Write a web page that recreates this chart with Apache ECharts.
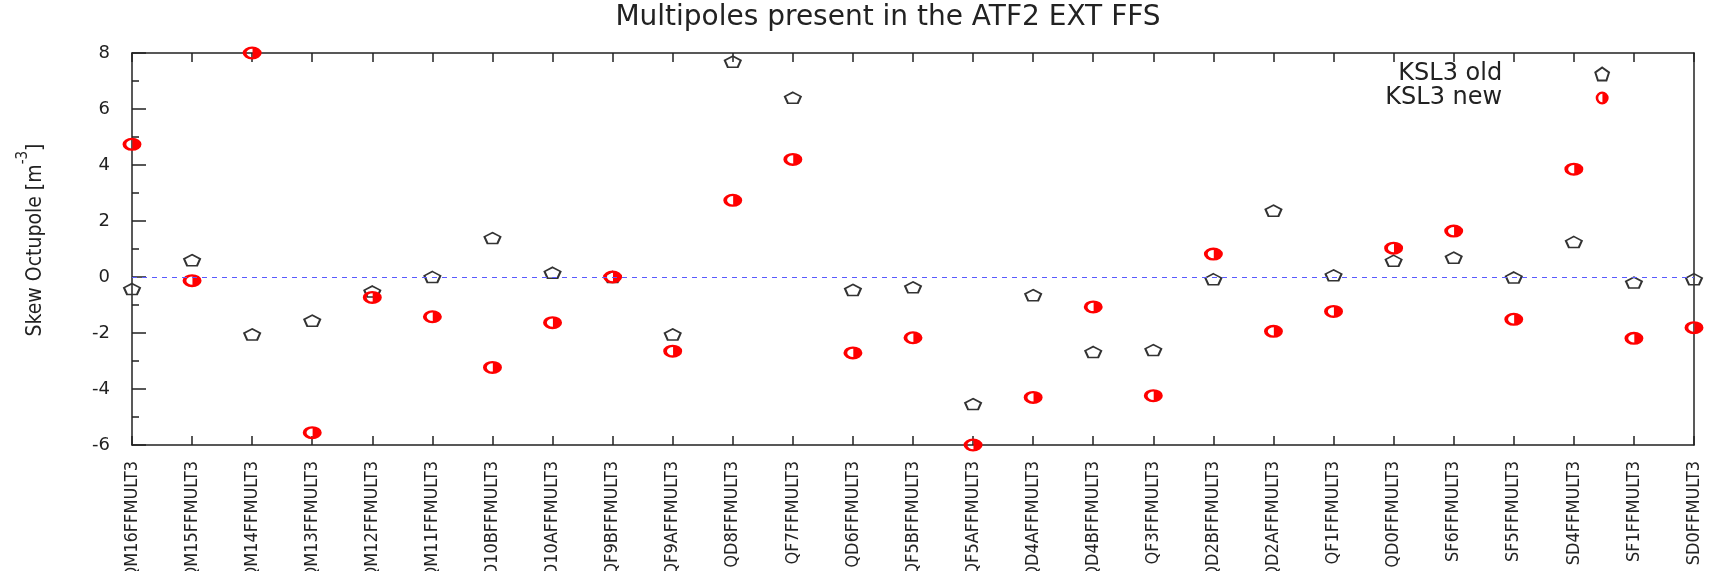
<!DOCTYPE html>
<html>
<head>
<meta charset="utf-8">
<script src="https://cdn.jsdelivr.net/npm/echarts@6/dist/echarts.min.js"></script>
<style>
html,body{margin:0;padding:0;background:#fff;}
#chart{width:1711px;height:571px;}
</style>
</head>
<body>
<div id="chart"></div>
<script>
const categories = [
  'QM16FFMULT3','QM15FFMULT3','QM14FFMULT3','QM13FFMULT3','QM12FFMULT3','QM11FFMULT3',
  'QD10BFFMULT3','QD10AFFMULT3','QF9BFFMULT3','QF9AFFMULT3','QD8FFMULT3','QF7FFMULT3',
  'QD6FFMULT3','QF5BFFMULT3','QF5AFFMULT3','QD4AFFMULT3','QD4BFFMULT3','QF3FFMULT3',
  'QD2BFFMULT3','QD2AFFMULT3','QF1FFMULT3','QD0FFMULT3','SF6FFMULT3','SF5FFMULT3',
  'SD4FFMULT3','SF1FFMULT3','SD0FFMULT3'
];
const ksl3Old = [
  -0.43, 0.6, -2.05, -1.56, -0.52, 0.0, 1.39, 0.15, 0.0, -2.05, 7.69, 6.4,
  -0.46, -0.37, -4.54, -0.65, -2.68, -2.61, -0.08, 2.37, 0.06, 0.58, 0.69, -0.02,
  1.25, -0.2, -0.08
];
const ksl3New = [
  4.74, -0.13, 8.0, -5.56, -0.73, -1.42, -3.23, -1.63, 0.0, -2.65, 2.74, 4.2,
  -2.71, -2.17, -6.0, -4.3, -1.07, -4.24, 0.82, -1.94, -1.23, 1.03, 1.64, -1.51,
  3.85, -2.19, -1.81
];
const seriesNames = ['KSL3 old', 'KSL3 new'];
const titleText = 'Multipoles present in the ATF2 EXT FFS';
const yMin = -6, yMax = 8, yStep = 2;

const pentagon = 'path://M50,0 L97.55,34.55 L79.39,90.45 L20.61,90.45 L2.45,34.55 Z';
const halfDot = 'path://M50,0 A50,50 0 1,1 50,100 A50,50 0 1,1 50,0 Z M52,18 A32,32 0 0,0 52,82 L52,18 Z';

const ink = '#222';
const narrow = '"DejaVu Sans Condensed", "Liberation Sans", Arial, sans-serif';
const wide = '"DejaVu Sans", sans-serif';
const axisLine = {show: true, onZero: false, lineStyle: {color: ink, width: 1.5}};

const chart = echarts.init(document.getElementById('chart'), null, {renderer: 'canvas'});
chart.setOption({
  animation: false,
  backgroundColor: '#fff',
  title: {
    text: titleText,
    left: 888, top: 18, padding: 0,
    textAlign: 'center', textVerticalAlign: 'middle',
    textStyle: {fontFamily: wide, fontSize: 28, fontWeight: 'normal', color: ink}
  },
  legend: {
    data: seriesNames,
    orient: 'vertical', align: 'right',
    right: 101, top: 62, padding: 0,
    itemWidth: 190, itemHeight: 13, itemGap: 0,
    selectedMode: false,
    textStyle: {fontFamily: wide, fontSize: 24, color: ink, lineHeight: 23}
  },
  grid: {left: 132, right: 17, top: 53, bottom: 126, containLabel: false, outerBoundsMode: 'none'},
  xAxis: [{
    type: 'category', data: categories, boundaryGap: false, position: 'bottom',
    axisLine: axisLine,
    axisTick: {show: true, inside: true, length: 9, interval: 0, lineStyle: {color: ink, width: 1.5}},
    axisLabel: {interval: 0, rotate: 90, margin: 16, fontFamily: narrow, fontSize: 18, color: ink},
    splitLine: {show: false}
  }, {
    type: 'category', data: categories, boundaryGap: false, position: 'top',
    axisLine: axisLine,
    axisTick: {show: true, inside: true, length: 9, interval: 0, lineStyle: {color: ink, width: 1.5}},
    axisLabel: {show: false},
    splitLine: {show: false}
  }],
  yAxis: [{
    type: 'value', min: yMin, max: yMax, interval: yStep, position: 'left',
    axisLine: axisLine,
    axisTick: {show: true, inside: true, length: 14, lineStyle: {color: ink, width: 1.5}},
    minorTick: {show: true, splitNumber: 2, length: 7, lineStyle: {color: ink, width: 1.5}},
    axisLabel: {margin: 22, fontFamily: wide, fontSize: 18, color: ink},
    splitLine: {show: false},
    name: '{n|Skew Octupole [m}{s|-3}{n|]}',
    nameLocation: 'middle', nameGap: 86, nameRotate: 90,
    nameTextStyle: {
      padding: [0, 0, 0, 18],
      rich: {
        n: {fontFamily: narrow, fontSize: 21, color: ink, lineHeight: 30, verticalAlign: 'bottom'},
        s: {fontFamily: narrow, fontSize: 15, color: ink, lineHeight: 15, verticalAlign: 'top'}
      }
    }
  }, {
    type: 'value', min: yMin, max: yMax, interval: yStep, position: 'right',
    axisLine: axisLine, axisTick: {show: false}, axisLabel: {show: false}, splitLine: {show: false}
  }],
  series: [{
    name: seriesNames[0], type: 'scatter', xAxisIndex: 0, yAxisIndex: 0,
    data: ksl3Old, clip: false,
    symbol: pentagon, symbolSize: [16, 11],
    itemStyle: {color: 'rgba(255,255,255,0)', borderColor: '#333', borderWidth: 1.8, opacity: 1},
    emphasis: {disabled: true},
    markLine: {
      silent: true, symbol: ['none', 'none'], label: {show: false},
      lineStyle: {color: '#5a5aff', type: [5, 5], width: 1},
      emphasis: {disabled: true},
      data: [{yAxis: 0}]
    },
    z: 2
  }, {
    name: seriesNames[1], type: 'scatter', xAxisIndex: 0, yAxisIndex: 0,
    data: ksl3New, clip: false,
    symbol: halfDot, symbolSize: [19, 13],
    itemStyle: {color: '#ff0000', opacity: 1},
    emphasis: {disabled: true},
    z: 3
  }]
});
</script>
</body>
</html>
